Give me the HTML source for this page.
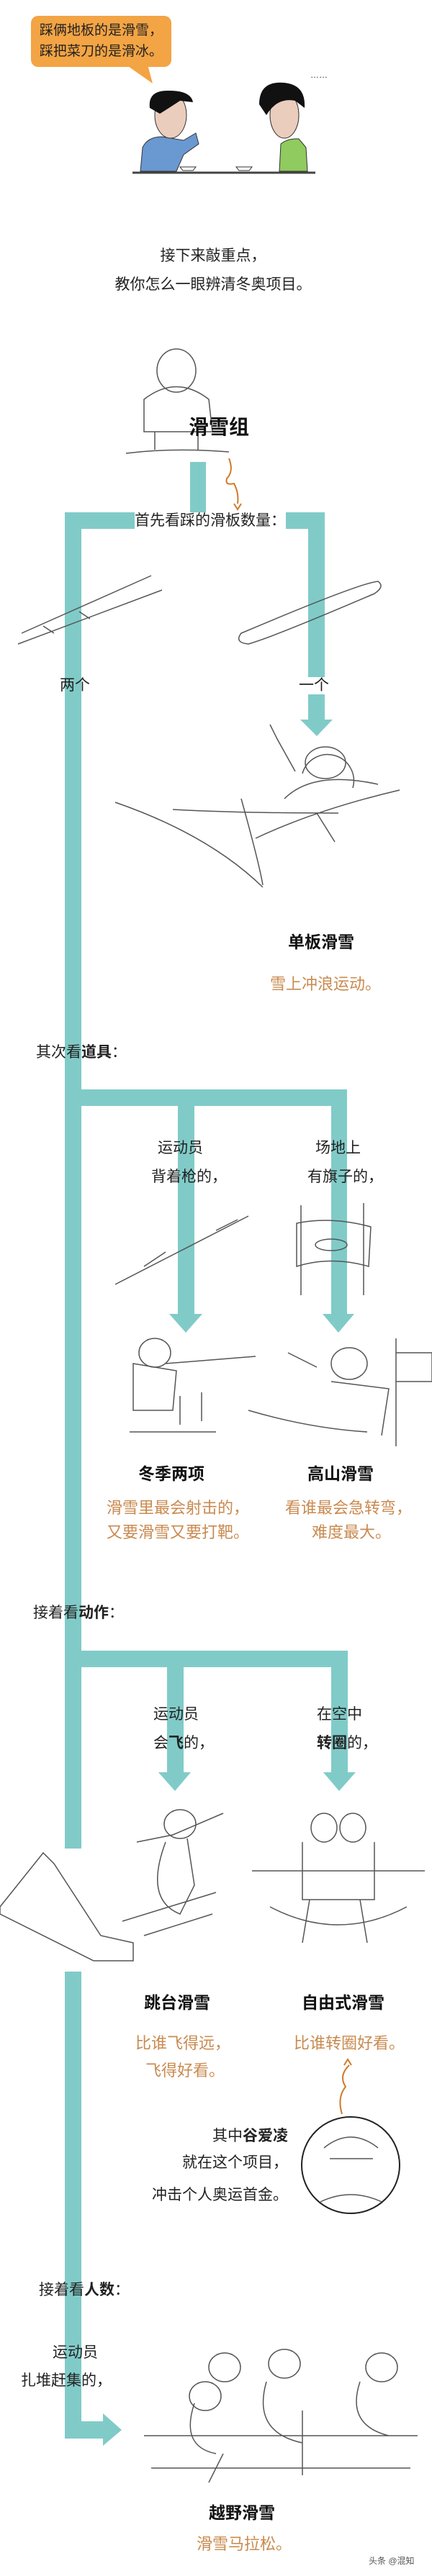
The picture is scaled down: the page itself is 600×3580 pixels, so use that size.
<!DOCTYPE html>
<html><head><meta charset="utf-8">
<style>
html,body{margin:0;padding:0;background:#fff;}
body{width:600px;height:3580px;position:relative;overflow:hidden;font-family:"Liberation Sans","Noto Sans CJK SC",sans-serif;color:#222;}
.t{position:absolute;white-space:nowrap;font-size:21px;line-height:24px;}
.o{color:#c98a4f;font-size:22px;}
.b{font-weight:bold;font-size:23px;color:#111;}
svg{position:absolute;left:0;top:0;}
</style></head><body>
<svg width="600" height="3580" viewBox="0 0 600 3580">
<g fill="#80cbc8">
<rect x="264" y="642" width="22" height="75"/>
<rect x="90" y="712" width="361" height="23"/>
<rect x="90" y="712" width="23" height="1857"/>
<rect x="428" y="712" width="23" height="288"/>
<polygon points="417,1000 462,1000 440,1023"/>
<rect x="113" y="1514" width="369" height="23"/>
<rect x="247" y="1537" width="23" height="289"/>
<polygon points="235,1826 281,1826 258,1852"/>
<rect x="460" y="1514" width="22" height="312"/>
<polygon points="448,1826 492,1826 470,1852"/>
<rect x="113" y="2294" width="370" height="23"/>
<rect x="232" y="2317" width="23" height="146"/>
<polygon points="220,2463 265,2463 243,2489"/>
<rect x="460" y="2294" width="23" height="169"/>
<polygon points="449,2463 494,2463 471,2489"/>
<rect x="90" y="2740" width="23" height="649"/>
<rect x="113" y="3365" width="30" height="24"/>
<polygon points="143,3354 143,3399 169,3377"/>
</g>
<!-- speech bubble -->
<rect x="43" y="22" width="195" height="71" rx="10" fill="#f3a444"/>
<polygon points="175,90 205,90 212,116" fill="#f3a444"/>
<!-- top characters -->
<line x1="184" y1="240" x2="438" y2="240" stroke="#444" stroke-width="3"/>
<path d="M195,238 L198,205 Q205,190 225,190 L255,195 L272,185 L276,200 L255,215 L245,238 Z" fill="#6a98d0" stroke="#333"/>
<ellipse cx="237" cy="160" rx="22" ry="32" fill="#ebcdbd" stroke="#333"/>
<path d="M208,150 Q205,125 235,126 Q265,126 268,142 L250,140 Q235,150 222,158 Z" fill="#111"/>
<path d="M388,238 L390,200 Q400,192 415,193 L425,205 L427,238 Z" fill="#8fcb5e" stroke="#333"/>
<ellipse cx="395" cy="160" rx="20" ry="32" fill="#ebcdbd" stroke="#333"/>
<path d="M360,145 Q360,112 395,115 Q425,118 423,150 L410,140 Q385,135 370,160 Z" fill="#111"/>
<path d="M250,232 h22 l-4,5 h-14 z M328,232 h22 l-4,5 h-14 z" fill="#fff" stroke="#333"/>
<!-- drawings (simplified) -->
<g fill="none" stroke="#555" stroke-width="1.5">
<ellipse cx="245" cy="515" rx="27" ry="30"/>
<path d="M200,555 Q245,520 290,555 L295,600 L200,600 Z"/>
<path d="M215,600 L215,625 M275,600 L275,625 M175,630 Q240,622 318,628"/>
<path d="M30,880 L210,800 M25,895 L225,820 M60,870 l15,10 M110,850 l15,10"/>
<path d="M335,880 Q500,810 525,808 Q535,815 520,825 Q380,885 345,895 Q325,893 335,880 Z"/>
<path d="M375,1007 l10,20 l25,45 M420,1075 a30,30 0 1 1 70,20 M395,1110 q40,-40 130,-20 M355,1165 Q440,1125 555,1098 M440,1130 l25,40 M335,1110 Q360,1200 365,1230"/>
<ellipse cx="452" cy="1060" rx="28" ry="22"/>
<path d="M160,1115 Q290,1160 365,1233 M240,1125 Q330,1130 470,1130"/>
<path d="M160,1785 L345,1690 M200,1760 l30,-20 M300,1710 l30,-15"/>
<path d="M418,1675 L418,1800 M505,1672 L505,1800 M412,1700 Q460,1690 515,1705 L512,1760 Q460,1745 412,1760 Z"/>
<ellipse cx="460" cy="1730" rx="22" ry="8"/>
<ellipse cx="215" cy="1880" rx="22" ry="20"/>
<path d="M185,1895 L185,1960 L240,1960 L245,1905 Z M230,1895 L355,1885 M180,1990 h120 M250,1940 v40 M280,1935 v40"/>
<ellipse cx="485" cy="1895" rx="25" ry="22"/>
<path d="M345,1960 Q430,1985 510,1990 M460,1920 L540,1930 L530,1995 M550,1860 v150 M550,1880 h50 v40 h-50 M400,1880 L440,1900"/>
<path d="M0,2650 L60,2575 L75,2590 L140,2690 L185,2700 L185,2725 L130,2725 L0,2660 Z"/>
<ellipse cx="250" cy="2535" rx="22" ry="20"/>
<path d="M190,2560 L240,2550 L310,2520 M230,2560 Q200,2640 250,2660 L270,2620 L260,2555 M170,2670 L300,2630 M200,2690 L295,2660"/>
<ellipse cx="450" cy="2540" rx="18" ry="20"/><ellipse cx="490" cy="2540" rx="18" ry="20"/>
<path d="M350,2600 L590,2600 M420,2560 L420,2640 L520,2640 L520,2560 M430,2640 L420,2700 M500,2640 L510,2700 M375,2650 Q470,2700 565,2650"/>
<ellipse cx="487" cy="3009" rx="68" ry="67" stroke="#222" stroke-width="2"/>
<path d="M450,2985 Q487,2955 525,2985 M458,3000 h60 M445,3060 Q487,3040 530,3060"/>
<path d="M475,2938 Q468,2915 480,2900 Q470,2885 485,2870 M478,2870 l5,-8 l5,8" stroke="#d07a2a" stroke-width="2"/>
<path d="M318,637 Q325,655 315,665 Q312,675 325,672 Q332,685 330,700 M325,700 l5,8 l5,-8" stroke="#d07a2a" stroke-width="2"/>
<ellipse cx="312" cy="3290" rx="22" ry="20"/><ellipse cx="395" cy="3285" rx="22" ry="20"/><ellipse cx="530" cy="3290" rx="22" ry="20"/><ellipse cx="285" cy="3330" rx="22" ry="20"/>
<path d="M200,3385 L580,3385 M210,3430 L570,3430 M270,3340 Q250,3400 300,3410 M370,3310 Q350,3380 420,3395 M500,3310 Q480,3370 540,3385 M310,3410 L290,3450 M420,3350 L420,3440"/>
</g>
</svg>
<div class="t" style="left:55px;top:31px;font-size:19px;">踩俩地板的是滑雪，</div>
<div class="t" style="left:55px;top:60px;font-size:19px;">踩把菜刀的是滑冰。</div>
<div class="t" style="left:431px;top:92px;font-size:12px;">……</div>
<div class="t" style="left:0;width:592px;text-align:center;top:344px;">接下来敲重点，</div>
<div class="t" style="left:0;width:592px;text-align:center;top:384px;">教你怎么一眼辨清冬奥项目。</div>
<div class="t b" style="left:262px;top:578px;font-size:28px;line-height:32px;">滑雪组</div>
<div class="t" style="left:187px;top:712px;background:#fff;">首先看踩的滑板数量：</div>
<div class="t" style="left:83px;top:941px;">两个</div>
<div class="t" style="left:415px;top:941px;background:#fff;">一个</div>
<div class="t b" style="left:400px;top:1297px;">单板滑雪</div>
<div class="t o" style="left:375px;top:1356px;">雪上冲浪运动。</div>
<div class="t" style="left:50px;top:1451px;">其次看<b>道具</b>：</div>
<div class="t" style="left:219px;top:1584px;">运动员</div>
<div class="t" style="left:210px;top:1624px;">背着枪的，</div>
<div class="t" style="left:438px;top:1584px;">场地上</div>
<div class="t" style="left:427px;top:1624px;">有旗子的，</div>
<div class="t b" style="left:192px;top:2036px;">冬季两项</div>
<div class="t b" style="left:427px;top:2036px;">高山滑雪</div>
<div class="t o" style="left:148px;top:2084px;">滑雪里最会射击的，</div>
<div class="t o" style="left:148px;top:2118px;">又要滑雪又要打靶。</div>
<div class="t o" style="left:396px;top:2084px;">看谁最会急转弯，</div>
<div class="t o" style="left:433px;top:2118px;">难度最大。</div>
<div class="t" style="left:46px;top:2230px;">接着看<b>动作</b>：</div>
<div class="t" style="left:213px;top:2371px;">运动员</div>
<div class="t" style="left:213px;top:2411px;">会<b>飞</b>的，</div>
<div class="t" style="left:440px;top:2371px;">在空中</div>
<div class="t" style="left:440px;top:2411px;"><b>转圈</b>的，</div>
<div class="t b" style="left:200px;top:2771px;">跳台滑雪</div>
<div class="t b" style="left:419px;top:2771px;">自由式滑雪</div>
<div class="t o" style="left:188px;top:2828px;">比谁飞得远，</div>
<div class="t o" style="left:202px;top:2866px;">飞得好看。</div>
<div class="t o" style="left:408px;top:2828px;">比谁转圈好看。</div>
<div class="t" style="left:0;width:400px;text-align:right;top:2957px;">其中<b>谷爱凌</b></div>
<div class="t" style="left:0;width:400px;text-align:right;top:2994px;">就在这个项目，</div>
<div class="t" style="left:0;width:400px;text-align:right;top:3039px;">冲击个人奥运首金。</div>
<div class="t" style="left:54px;top:3171px;">接着看<b>人数</b>：</div>
<div class="t" style="left:73px;top:3258px;">运动员</div>
<div class="t" style="left:29px;top:3297px;">扎堆赶集的，</div>
<div class="t b" style="left:290px;top:3480px;">越野滑雪</div>
<div class="t o" style="left:273px;top:3524px;">滑雪马拉松。</div>
<div class="t" style="left:512px;top:3551px;font-size:12px;line-height:16px;color:#555;">头条 @混知</div>
</body></html>
